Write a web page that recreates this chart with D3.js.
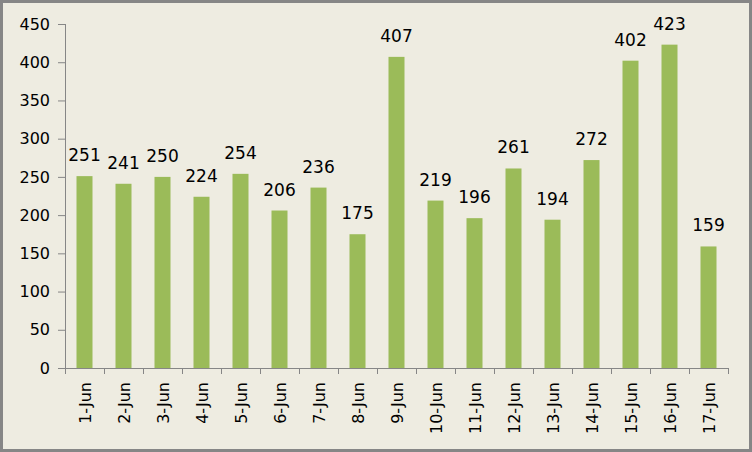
<!DOCTYPE html>
<html>
<head>
<meta charset="utf-8">
<script src="https://cdn.jsdelivr.net/npm/d3@7"></script>
<style>
  body { margin: 0; }
  svg { display: block; }
</style>
</head>
<body>
<svg id="chart" width="752" height="452"></svg>
<script>
// Data
const days = ["1-Jun", "2-Jun", "3-Jun", "4-Jun", "5-Jun", "6-Jun", "7-Jun", "8-Jun", "9-Jun",
    "10-Jun", "11-Jun", "12-Jun", "13-Jun", "14-Jun", "15-Jun", "16-Jun", "17-Jun"];
const counts = [251, 241, 250, 224, 254, 206, 236, 175, 407, 219, 196, 261, 194, 272, 402, 423, 159];
const yTicks = [0, 50, 100, 150, 200, 250, 300, 350, 400, 450];

const data = days.map((d, i) => ({ day: d, count: counts[i] }));

let svg = d3.select("#chart");
const font = "'DejaVu Sans', Verdana, sans-serif";

// Background and border
svg.append("rect")
    .attr("x", 1.5).attr("y", 1.5)
    .attr("width", 749).attr("height", 449)
    .style("fill", "#EEECE1")
    .style("stroke", "#868686")
    .style("stroke-width", 3);

// Scales
let x = d3.scaleBand()
    .domain(days)
    .range([65, 728])
    .paddingInner(0.59)
    .paddingOuter(0.295);

let y = d3.scaleLinear()
    .domain([0, 450])
    .range([368, 24]);

// Y axis
let yAxis = svg.append("g")
    .attr("transform", "translate(65,0)")
    .call(d3.axisLeft(y).tickValues(yTicks).tickSize(7).tickPadding(8));

yAxis.selectAll("path, line").style("stroke", "#868686");
yAxis.select(".domain").attr("d", "M0.5," + y(450) + "V" + y(0));
yAxis.selectAll("text")
    .style("font-family", font)
    .style("font-size", "16px")
    .style("fill", "#000");

// X axis: ticks at category boundaries
let xAxisG = svg.append("g").attr("class", "x-axis");
xAxisG.append("line")
    .attr("x1", 58).attr("x2", 728)
    .attr("y1", y(0) + 0.5).attr("y2", y(0) + 0.5)
    .style("stroke", "#868686");

let step = x.step();
let bounds = days.map((d, i) => x(d) - x.paddingOuter() * step).concat([728]);
xAxisG.selectAll(".xtick")
    .data(bounds)
    .enter().append("line")
    .attr("x1", d => Math.round(d) + 0.5)
    .attr("x2", d => Math.round(d) + 0.5)
    .attr("y1", y(0))
    .attr("y2", y(0) + 6)
    .style("stroke", "#868686");

xAxisG.selectAll(".xlabel")
    .data(days)
    .enter().append("text")
    .attr("transform", d => "translate(" + (x(d) + x.bandwidth() / 2 + 6) + "," + (y(0) + 14) + ") rotate(-90)")
    .attr("text-anchor", "end")
    .style("font-family", font)
    .style("font-size", "16px")
    .style("fill", "#000")
    .text(d => d);

// Bars
svg.append("g").selectAll("rect")
    .data(data)
    .enter().append("rect")
    .attr("x", d => x(d.day))
    .attr("y", d => y(d.count))
    .attr("width", x.bandwidth())
    .attr("height", d => y(0) - y(d.count))
    .style("fill", "#9BBB59");

// Value labels
svg.append("g").selectAll("text")
    .data(data)
    .enter().append("text")
    .attr("x", d => x(d.day) + x.bandwidth() / 2)
    .attr("y", d => y(d.count) - 15)
    .attr("text-anchor", "middle")
    .style("font-family", font)
    .style("font-size", "17px")
    .style("fill", "#000")
    .text(d => d.count);
</script>
</body>
</html>
